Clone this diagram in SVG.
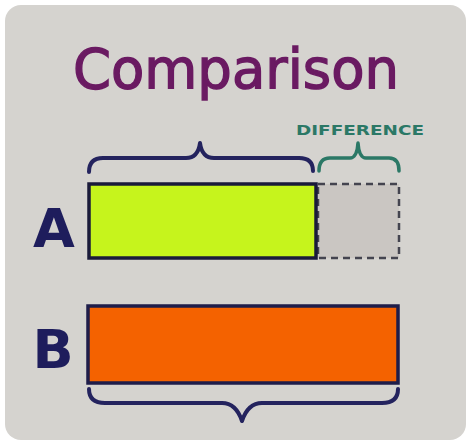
<svg xmlns="http://www.w3.org/2000/svg" width="471" height="444" viewBox="0 0 471 444">
<style>
.brace{fill:none;stroke:#24235e;stroke-width:4;stroke-linecap:round;stroke-linejoin:round}
.lbl{font-family:"DejaVu Sans","Liberation Sans",sans-serif;font-weight:bold;fill:#1e1d5c}
</style>
<rect x="0" y="0" width="471" height="444" fill="#ffffff"/>
<rect x="5" y="5" width="461" height="435" rx="16" fill="#d5d3cf"/>
<g id="title">
<text x="236" y="88" text-anchor="middle" font-family="'DejaVu Sans','Liberation Sans',sans-serif" font-size="55" fill="#6a1a62" stroke="#6a1a62" stroke-width="1.4" textLength="326" lengthAdjust="spacingAndGlyphs">Comparison</text>
</g>
<g id="difference-label">
<text x="360" y="135" text-anchor="middle" font-family="'DejaVu Sans','Liberation Sans',sans-serif" font-weight="bold" font-size="14" fill="#2b7866" textLength="128" lengthAdjust="spacingAndGlyphs">DIFFERENCE</text>
</g>
<g id="connectors">
<path class="brace" d="M89,172 Q89,158 103,158 L186,158 Q198,158 200,143 Q202,158 214,158 L299,158 Q313,158 313,171"/>
<path class="brace" style="stroke:#2b7866;stroke-width:3.5" d="M319,171 Q319,158 330,158 L350,158 Q357,158 358,143 Q359,158 366,158 L389,158 Q399,158 399,171"/>
<path class="brace" d="M89,389 Q89,403 105,403 L222,403 Q236,403 242,421 Q248,403 262,403 L382,403 Q398,403 398,389"/>
</g>
<g id="node-A">
<rect x="318" y="184" width="81" height="74" fill="#cac6c2" stroke="#44444f" stroke-width="2.5" stroke-dasharray="7,5"/>
<rect x="89" y="184" width="227" height="74" fill="#c6f41c" stroke="#1a1a3a" stroke-width="3.5"/>
<text class="lbl" x="54" y="247" text-anchor="middle" font-size="54">A</text>
</g>
<g id="node-B">
<rect x="88" y="306" width="310" height="77" fill="#f46200" stroke="#1e1d4a" stroke-width="3.5"/>
<text class="lbl" x="53" y="368" text-anchor="middle" font-size="54">B</text>
</g>
</svg>
